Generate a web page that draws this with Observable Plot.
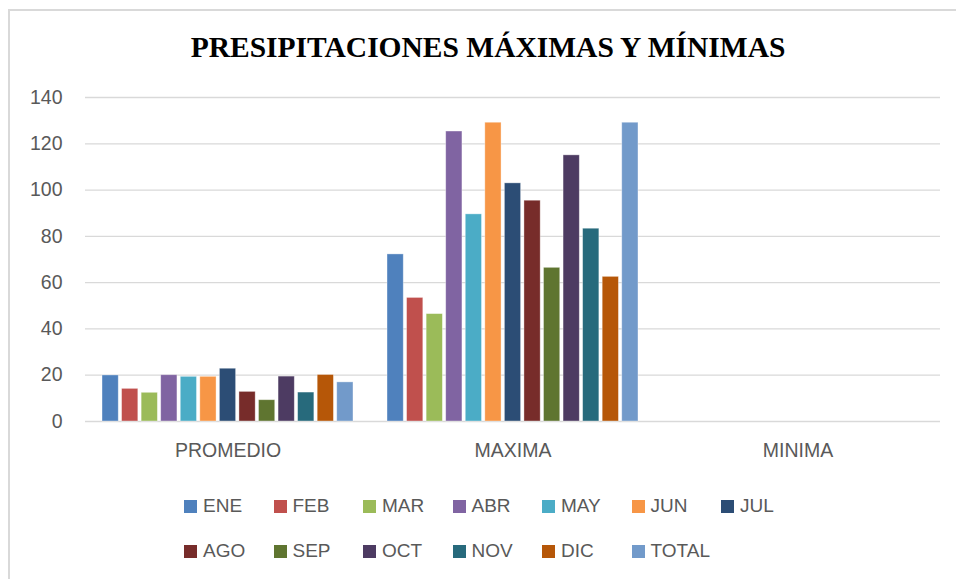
<!DOCTYPE html>
<html>
<head>
<meta charset="utf-8">
<script src="https://cdn.jsdelivr.net/npm/d3@7"></script>
<script src="https://cdn.jsdelivr.net/npm/@observablehq/plot@0.6"></script>
<style>
  html, body { margin: 0; padding: 0; background: #fff; }
  #wrap { position: relative; width: 956px; height: 579px; overflow: hidden; background: #fff; }
  #frame { position: absolute; left: 8px; top: 9px; width: 1000px; height: 700px; border-left: 2px solid #d9d9d9; border-top: 2px solid #d9d9d9; }
  #title { position: absolute; left: 0; width: 976px; top: 27px; text-align: center; font-family: "Liberation Serif", "Times New Roman", serif; font-weight: bold; font-size: 29.5px; color: #000; line-height: 40px; }
  #chart { position: absolute; left: 0; top: 80px; }
  .leg { position: absolute; font-family: "Liberation Sans", Arial, sans-serif; font-size: 19px; color: #595959; line-height: 22px; height: 22px; white-space: nowrap; }
  .leg span.sw { display: inline-block; width: 13px; height: 13px; margin-right: 6px; vertical-align: -1px; }
</style>
</head>
<body>
<div id="wrap">
  <div id="frame"></div>
  <div id="title">PRESIPITACIONES MÁXIMAS Y MÍNIMAS</div>
  <div id="chart"></div>
  <div id="legend"></div>
</div>
<script>
const groups = ["PROMEDIO", "MAXIMA", "MINIMA"];
const months = ["ENE", "FEB", "MAR", "ABR", "MAY", "JUN", "JUL", "AGO", "SEP", "OCT", "NOV", "DIC", "TOTAL"];
const promedio = [19.9, 14.1, 12.4, 20.0, 19.3, 19.3, 22.8, 12.8, 9.2, 19.4, 12.5, 20.1, 16.9];
const maxima = [72.2, 53.4, 46.4, 125.3, 89.5, 129.1, 102.9, 95.4, 66.4, 115.0, 83.3, 62.5, 129.1];
const minima = [0, 0, 0, 0, 0, 0, 0, 0, 0, 0, 0, 0, 0];
const colors = ["#4F81BD", "#C0504D", "#9BBB59", "#8064A2", "#4BACC6", "#F79646", "#2C4D75", "#772C2A", "#5F7530", "#4D3B62", "#276A7C", "#B65708", "#729ACA"];
const yTicks = [0, 20, 40, 60, 80, 100, 120, 140];

const series = [promedio, maxima, minima];
const rows = [];
groups.forEach((g, gi) => months.forEach((m, mi) => rows.push({group: g, month: m, value: series[gi][mi]})));

const plot = Plot.plot({
  width: 956,
  height: 400,
  marginLeft: 85,
  marginRight: 16,
  marginTop: 17,
  marginBottom: 59,
  style: {fontFamily: "Liberation Sans, Arial, sans-serif", fontSize: "19.5px", color: "#595959", background: "transparent"},
  facet: {data: rows, x: "group"},
  fx: {domain: groups, paddingInner: 0, paddingOuter: 0, round: false, axis: "bottom", label: null, tickSize: 0, tickPadding: 22},
  x: {domain: months, paddingInner: 0.17, paddingOuter: 0.87, round: false, axis: null},
  y: {domain: [0, 140], ticks: yTicks, tickSize: 0, tickPadding: 23, label: null},
  color: {domain: months, range: colors},
  marks: [
    Plot.ruleY(yTicks, {stroke: "#d9d9d9", strokeWidth: 1.3}),
    Plot.barY(rows, {x: "month", y: "value", fill: "month", stroke: "#ffffff", strokeOpacity: 0.45, strokeWidth: 0.8})
  ]
});
document.getElementById("chart").appendChild(plot);

const legend = document.getElementById("legend");
months.forEach((m, i) => {
  const row = Math.floor(i / 7), col = i % 7;
  const d = document.createElement("div");
  d.className = "leg";
  d.style.left = (184 + col * 89.5) + "px";
  d.style.top = (495 + row * 45) + "px";
  d.innerHTML = `<span class="sw" style="background:${colors[i]}"></span>${m}`;
  legend.appendChild(d);
});
</script>
</body>
</html>
